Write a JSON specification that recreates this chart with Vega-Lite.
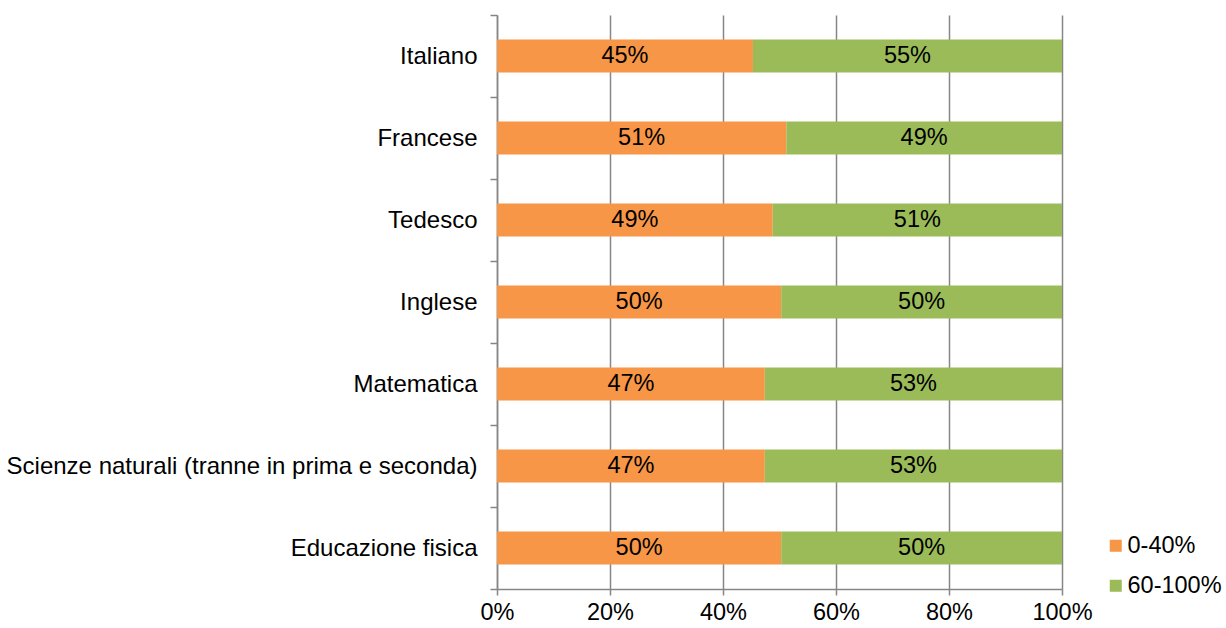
{
  "$schema": "https://vega.github.io/schema/vega-lite/v6.json",
  "width": 565,
  "height": 574,
  "autosize": "none",
  "padding": {"left": 497, "top": 15, "right": 164, "bottom": 39},
  "config": {
    "font": "Liberation Sans",
    "view": {"stroke": null}
  },
  "data": {
    "values": [
      {"materia": "Italiano", "fascia": "0-40%", "ord": 1, "value": 0.453},
      {"materia": "Italiano", "fascia": "60-100%", "ord": 2, "value": 0.547},
      {"materia": "Francese", "fascia": "0-40%", "ord": 1, "value": 0.512},
      {"materia": "Francese", "fascia": "60-100%", "ord": 2, "value": 0.488},
      {"materia": "Tedesco", "fascia": "0-40%", "ord": 1, "value": 0.488},
      {"materia": "Tedesco", "fascia": "60-100%", "ord": 2, "value": 0.512},
      {"materia": "Inglese", "fascia": "0-40%", "ord": 1, "value": 0.503},
      {"materia": "Inglese", "fascia": "60-100%", "ord": 2, "value": 0.497},
      {"materia": "Matematica", "fascia": "0-40%", "ord": 1, "value": 0.474},
      {"materia": "Matematica", "fascia": "60-100%", "ord": 2, "value": 0.526},
      {"materia": "Scienze naturali (tranne in prima e seconda)", "fascia": "0-40%", "ord": 1, "value": 0.474},
      {"materia": "Scienze naturali (tranne in prima e seconda)", "fascia": "60-100%", "ord": 2, "value": 0.526},
      {"materia": "Educazione fisica", "fascia": "0-40%", "ord": 1, "value": 0.503},
      {"materia": "Educazione fisica", "fascia": "60-100%", "ord": 2, "value": 0.497}
    ]
  },
  "transform": [
    {"stack": "value", "groupby": ["materia"], "sort": [{"field": "ord", "order": "ascending"}], "as": ["v0", "v1"]},
    {"calculate": "(datum.v0 + datum.v1) / 2", "as": "mid"}
  ],
  "encoding": {
    "y": {
      "field": "materia",
      "type": "nominal",
      "sort": ["Italiano", "Francese", "Tedesco", "Inglese", "Matematica", "Scienze naturali (tranne in prima e seconda)", "Educazione fisica"],
      "scale": {"paddingInner": 0, "paddingOuter": 0},
      "axis": {
        "title": null,
        "tickBand": "extent",
        "tickSize": 7,
        "tickColor": "#868686",
        "tickWidth": 1.5,
        "domainColor": "#868686",
        "domainWidth": 1.5,
        "labelFontSize": 24,
        "labelColor": "#000000",
        "labelPadding": 13,
        "labelLimit": 600
      }
    }
  },
  "layer": [
    {
      "mark": {"type": "bar", "size": 33},
      "encoding": {
        "x": {
          "field": "v0",
          "type": "quantitative",
          "scale": {"domain": [0, 1]},
          "axis": {
            "title": null,
            "format": ".0%",
            "values": [0, 0.2, 0.4, 0.6, 0.8, 1],
            "grid": true,
            "gridColor": "#868686",
            "gridWidth": 1.5,
            "tickSize": 6,
            "tickColor": "#868686",
            "tickWidth": 1.5,
            "domainColor": "#868686",
            "domainWidth": 1.5,
            "labelFontSize": 23.5,
            "labelColor": "#000000",
            "labelPadding": 5,
            "labelFlush": false
          }
        },
        "x2": {"field": "v1"},
        "color": {
          "field": "fascia",
          "type": "nominal",
          "scale": {"domain": ["0-40%", "60-100%"], "range": ["#F79646", "#9BBB59"]},
          "legend": {
            "title": null,
            "orient": "none",
            "legendX": 607,
            "legendY": 519,
            "symbolType": "square",
            "symbolSize": 144,
            "symbolStrokeWidth": 0,
            "labelFontSize": 23.5,
            "labelColor": "#000000",
            "rowPadding": 15,
            "labelOffset": 0
          }
        }
      }
    },
    {
      "mark": {"type": "text", "fontSize": 23.5, "color": "#000000", "baseline": "middle", "align": "center"},
      "encoding": {
        "x": {"field": "mid", "type": "quantitative"},
        "text": {"field": "value", "type": "quantitative", "format": ".0%"}
      }
    }
  ]
}
